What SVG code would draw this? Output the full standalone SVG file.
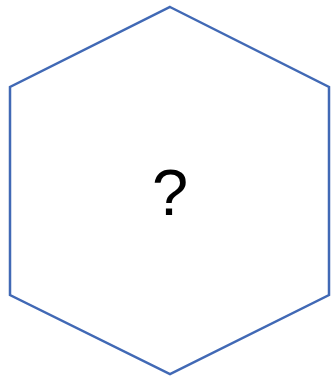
<svg xmlns="http://www.w3.org/2000/svg" width="331" height="376" viewBox="0 0 331 376">
<style>
.hex{fill:#ffffff;stroke:#4169b5;stroke-width:2.5;stroke-linejoin:miter}
.lbl{font-family:"Liberation Sans",Arial,sans-serif;font-size:65px;fill:#000000;text-anchor:middle}
</style>
<rect width="331" height="376" fill="#ffffff"/>
<g id="hexagon">
<polygon class="hex" points="170,7 329,87 329,295 170,374 10,295 10,87"/>
<text class="lbl" x="170" y="215">?</text>
</g>
<g id="connectors"></g>
</svg>
